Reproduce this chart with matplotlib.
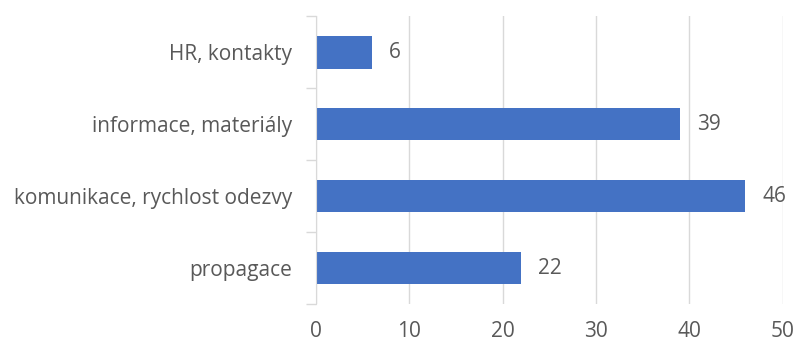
import matplotlib.pyplot as plt
import numpy as np

plt.rcParams['font.family'] = ['Open Sans', 'DejaVu Sans']

categories = ['HR, kontakty', 'informace, materiály', 'komunikace, rychlost odezvy', 'propagace']
values = [6, 39, 46, 22]
xticks = [0, 10, 20, 30, 40, 50]

bar_color = '#4472C4'
text_color = '#595959'
grid_color = '#D9D9D9'

fig = plt.figure(figsize=(7.98, 3.44), dpi=100)
ax = fig.add_axes([0.396, 0.116, 0.585, 0.837])

y = np.arange(len(categories))
ax.barh(y, values, height=0.4545, color=bar_color, zorder=2)
ax.set_ylim(len(categories) - 0.5, -0.5)
ax.set_xlim(0, 50)

# value labels to the right of each bar
for yi, v in zip(y, values):
    ax.annotate(str(v), (v, yi), xytext=(12, 0), textcoords='offset points',
                va='center', ha='left', fontsize=15, color=text_color)

# vertical gridlines
ax.set_xticks(xticks)
ax.xaxis.grid(True, color=grid_color, linewidth=1, zorder=0)
ax.tick_params(axis='x', length=0, labelsize=15, labelcolor=text_color, pad=12)

# category labels on minor ticks, separators on major ticks
ax.set_yticks(np.arange(-0.5, len(categories)), labels=[''] * (len(categories) + 1))
ax.set_yticks(y, labels=categories, minor=True)
ax.tick_params(axis='y', which='major', length=7, color=grid_color, width=1)
ax.tick_params(axis='y', which='minor', length=0, labelsize=15, labelcolor=text_color, pad=17)

for side in ['top', 'right', 'bottom']:
    ax.spines[side].set_visible(False)
ax.spines['left'].set_color(grid_color)

fig.savefig('out.png', dpi=100)
